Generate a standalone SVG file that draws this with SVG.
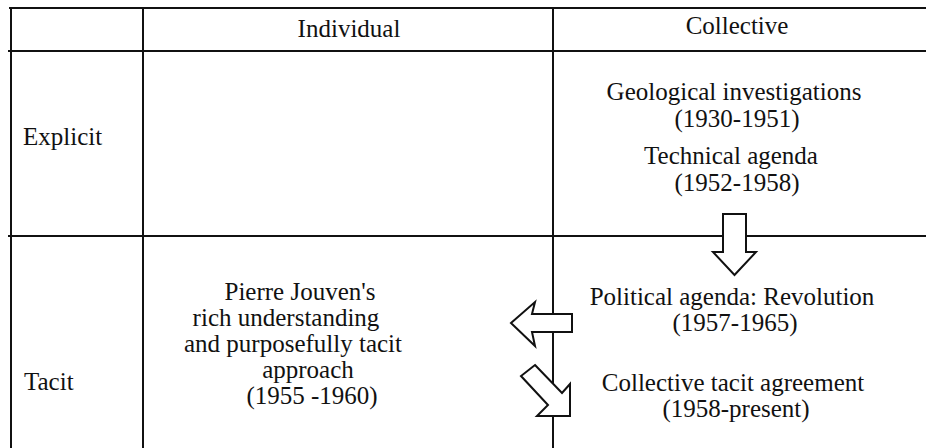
<svg xmlns="http://www.w3.org/2000/svg" width="926" height="448" viewBox="0 0 926 448">
  <style>
    .grid { stroke: #111; stroke-width: 2; fill: none; }
    .lbl { font-family: 'Liberation Serif', 'Times New Roman', serif; font-size: 25px; fill: #111; }
    .mid { text-anchor: middle; }
    .arrow { fill: #fff; stroke: #111; stroke-width: 2; stroke-linejoin: miter; }
  </style>
  <rect width="926" height="448" fill="#fff"/>

  <!-- table grid -->
  <g id="grid" class="grid">
    <line x1="9" y1="8" x2="926" y2="8"/>
    <line x1="8" y1="51" x2="926" y2="51"/>
    <line x1="8" y1="236" x2="926" y2="236"/>
    <line x1="11" y1="7" x2="11" y2="448"/>
    <line x1="143" y1="7" x2="143" y2="448"/>
    <line x1="553" y1="7" x2="553" y2="448"/>
  </g>

  <!-- headers -->
  <g id="header-individual"><text class="lbl mid" x="349" y="37">Individual</text></g>
  <g id="header-collective"><text class="lbl mid" x="737" y="34">Collective</text></g>
  <g id="row-explicit"><text class="lbl" x="23" y="145">Explicit</text></g>
  <g id="row-tacit"><text class="lbl" x="24" y="390">Tacit</text></g>

  <!-- collective / explicit -->
  <g id="geological">
    <text class="lbl mid" x="734" y="100">Geological investigations</text>
    <text class="lbl mid" x="737" y="127">(1930-1951)</text>
  </g>
  <g id="technical">
    <text class="lbl mid" x="731" y="164">Technical agenda</text>
    <text class="lbl mid" x="737" y="191">(1952-1958)</text>
  </g>

  <!-- collective / tacit -->
  <g id="political">
    <text class="lbl mid" x="732" y="305">Political agenda: Revolution</text>
    <text class="lbl mid" x="735" y="331">(1957-1965)</text>
  </g>
  <g id="agreement">
    <text class="lbl mid" x="733" y="391">Collective tacit agreement</text>
    <text class="lbl mid" x="736" y="417">(1958-present)</text>
  </g>

  <!-- individual / tacit -->
  <g id="jouven">
    <text class="lbl mid" x="300" y="300">Pierre Jouven's</text>
    <text class="lbl mid" x="286" y="326">rich understanding</text>
    <text class="lbl mid" x="293" y="352">and purposefully tacit</text>
    <text class="lbl mid" x="308" y="378">approach</text>
    <text class="lbl mid" x="312" y="404">(1955 -1960)</text>
  </g>

  <!-- block arrows -->
  <g id="connectors">
    <polygon class="arrow" points="723,214 746,214 746,252 756,252 734.5,275 713,252 723,252"/>
    <polygon class="arrow" points="511,323 535,302 532,314 572,314 572,332 532,332 535,346"/>
    <polygon class="arrow" points="535,365 562,393 570,384 570,416 537,416 548,405 521,376"/>
  </g>
</svg>
